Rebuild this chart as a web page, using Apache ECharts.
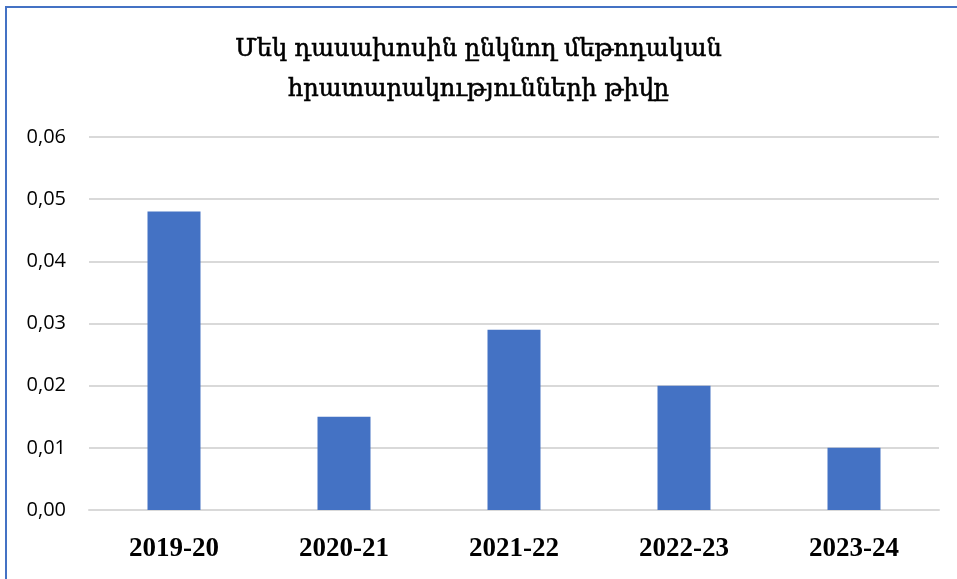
<!DOCTYPE html>
<html>
<head>
<meta charset="utf-8">
<script src="https://cdn.jsdelivr.net/npm/echarts@6/dist/echarts.min.js"></script>
<style>
  html, body { margin: 0; padding: 0; background: #fff; }
  #chart { width: 957px; height: 579px; }
</style>
</head>
<body>
<div id="chart"></div>
<script>
// Academic years and publications per lecturer
const years = ['2019-20', '2020-21', '2021-22', '2022-23', '2023-24'];
const perLecturer = [0.048, 0.015, 0.029, 0.020, 0.010];
const titleLines = ['Մեկ դասախոսին ընկնող մեթոդական', 'հրատարակությունների թիվը'];

const chart = echarts.init(document.getElementById('chart'), null, { renderer: 'canvas' });

chart.setOption({
  backgroundColor: '#ffffff',
  animation: false,
  title: {
    text: titleLines.join('\n'),
    left: 'center',
    top: 25,
    textStyle: {
      fontFamily: '"DejaVu Serif", serif',
      fontSize: 24,
      fontWeight: 'normal',
      color: '#000',
      textBorderColor: '#000',
      textBorderWidth: 0.6,
      lineHeight: 40
    }
  },
  graphic: [
    { type: 'line', shape: { x1: 5, y1: 7, x2: 957, y2: 7 }, style: { stroke: '#4472C4', lineWidth: 2 } },
    { type: 'line', shape: { x1: 6, y1: 7, x2: 6, y2: 579 }, style: { stroke: '#4472C4', lineWidth: 2 } }
  ],
  grid: { left: 89, right: 18, top: 137, bottom: 69, containLabel: false },
  xAxis: {
    type: 'category',
    data: years,
    axisLine: { show: true, lineStyle: { color: '#d9d9d9', width: 2 } },
    axisTick: { show: false },
    axisLabel: {
      margin: 26,
      fontFamily: '"Liberation Serif", "Times New Roman", serif',
      fontWeight: 'bold',
      fontSize: 27,
      color: '#000'
    }
  },
  yAxis: {
    type: 'value',
    min: 0,
    max: 0.06,
    interval: 0.01,
    axisLine: { show: false },
    axisTick: { show: false },
    splitLine: { lineStyle: { color: '#d9d9d9', width: 2 } },
    axisLabel: {
      margin: 23,
      fontFamily: '"Open Sans", "Liberation Sans", sans-serif',
      fontSize: 20,
      color: '#000',
      formatter: v => v.toFixed(2).replace('.', ',')
    }
  },
  series: [{
    type: 'bar',
    data: perLecturer,
    barWidth: 53,
    itemStyle: { color: '#4472C4' }
  }]
});
</script>
</body>
</html>
